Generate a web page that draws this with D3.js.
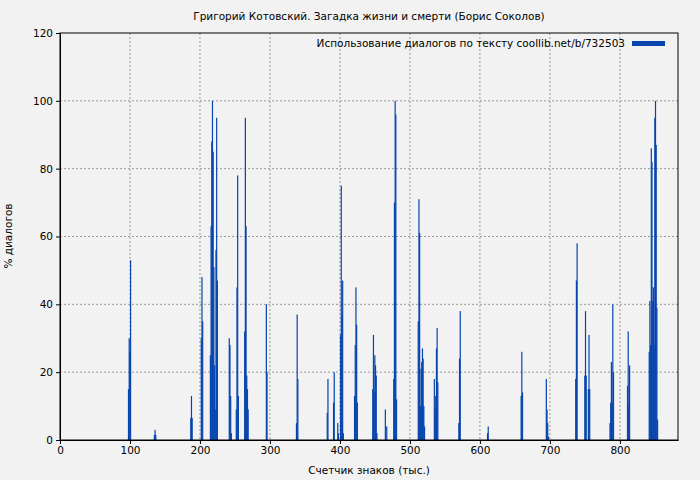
<!DOCTYPE html>
<html><head><meta charset="utf-8">
<script src="https://cdn.jsdelivr.net/npm/d3@7"></script>
<style>body{margin:0;background:#f2f2f2}text{font-family:"DejaVu Sans",sans-serif}</style>
</head><body><svg id="chart" width="700" height="480"></svg>
<script>
// позиции (тыс. знаков) и значения (% диалогов)
const positions = [97,98,99,100, 134,135,136, 186,187,188, 201,202,203,
  214,215,216,217,218,219,220,221,222,223,224, 241,242,243,244, 251,252,253,254,
  263,264,265,266,267,268, 294,295, 337,338,339, 381,382, 390,391, 396,397,
  400,401,402,403,404, 420,421,422,423,424, 446,447,448,449,450,451,452, 464,466,
  476,477,478,479,480, 511,512,513,514,515,516,517,518,519,520, 534,535,536,537,538,539,
  569,570,571, 610,611, 658,659,660, 694,695,696,697, 736,737,738,
  749,750,751, 754,755,756, 785,786,787,788,789,790, 810,811,812,813,
  841,842,843,844,845,846,847,848,849,850,851,852,853];
const values = [15,30,26,53, 1.5,3,1.5, 6.5,13,6.5, 30,48,35,
  25,63,88,100,85,51,22,9,56,95,47, 30,28,13,2, 9,45,78,13,
  32,95,63,19,15,9, 40,20, 5,37,18, 8,18, 11,20, 5,2,
  31,75,37,47,2, 13,28,45,34,11, 15,31,14,25,22,19,2, 9,4,
  18,70,100,96,12, 35,71,61,10,21,23,27,24,10,4, 18,9,13,27,33,17,
  5,24,38, 2,4, 13,26,14, 18,9,5,1, 18,47,58,
  19,38,19, 15,31,15, 5,11,23,11,40,20, 16,32,10,22,
  26,41,28,86,82,41,45,28,95,100,87,39,6];
const yTicks = [0,20,40,60,80,100,120];
const xTicks = [0,100,200,300,400,500,600,700,800];

const svg = d3.select("#chart");
const m = {l:60, r:678, t:33, b:440};
const x = d3.scaleLinear().domain([0,883]).range([m.l, m.r]);
const y = d3.scaleLinear().domain([0,120]).range([m.b, m.t]);

svg.append("rect").attr("width",700).attr("height",480).attr("fill","#f2f2f2");

// сетка
svg.append("g").selectAll("line").data(yTicks.slice(1,-1)).join("line")
  .attr("x1",m.l).attr("x2",m.r).attr("y1",d=>y(d)).attr("y2",d=>y(d))
  .attr("stroke","#999").attr("stroke-dasharray","2,2");
svg.append("g").selectAll("line").data(xTicks.slice(1)).join("line")
  .attr("y1",m.t).attr("y2",m.b).attr("x1",d=>x(d)).attr("x2",d=>x(d))
  .attr("stroke","#999").attr("stroke-dasharray","2,2");

// столбцы
svg.append("g").selectAll("rect").data(positions).join("rect")
  .attr("x",d=>x(d)).attr("width",1.2)
  .attr("y",(d,i)=>y(values[i])).attr("height",(d,i)=>y(0)-y(values[i]))
  .attr("fill","#0645ad");

// оси
svg.append("g").attr("transform",`translate(0,${m.b})`)
  .call(d3.axisBottom(x).tickValues(xTicks).tickSize(4).tickSizeOuter(0))
  .call(g=>g.selectAll("text").attr("font-size",10.5).attr("fill","#000"));
svg.append("g").attr("transform",`translate(${m.l},0)`)
  .call(d3.axisLeft(y).tickValues(yTicks).tickSize(4).tickSizeOuter(0))
  .call(g=>g.selectAll("text").attr("font-size",10.5).attr("fill","#000"));
svg.append("rect").attr("x",m.l).attr("y",m.t).attr("width",m.r-m.l).attr("height",m.b-m.t)
  .attr("fill","none").attr("stroke","#000");

// подписи
svg.append("text").attr("x",369).attr("y",20).attr("text-anchor","middle").attr("font-size",10.5)
  .text("Григорий Котовский. Загадка жизни и смерти (Борис Соколов)");
svg.append("text").attr("x",369).attr("y",474).attr("text-anchor","middle").attr("font-size",10.5)
  .text("Счетчик знаков (тыс.)");
svg.append("text").attr("transform","translate(12,236) rotate(-90)").attr("text-anchor","middle").attr("font-size",10.5)
  .text("% диалогов");

// легенда
svg.append("text").attr("x",625).attr("y",47).attr("text-anchor","end").attr("font-size",10.5)
  .text("Использование диалогов по тексту coollib.net/b/732503");
svg.append("rect").attr("x",632).attr("y",41).attr("width",33).attr("height",5).attr("fill","#0645ad");
</script></body></html>
